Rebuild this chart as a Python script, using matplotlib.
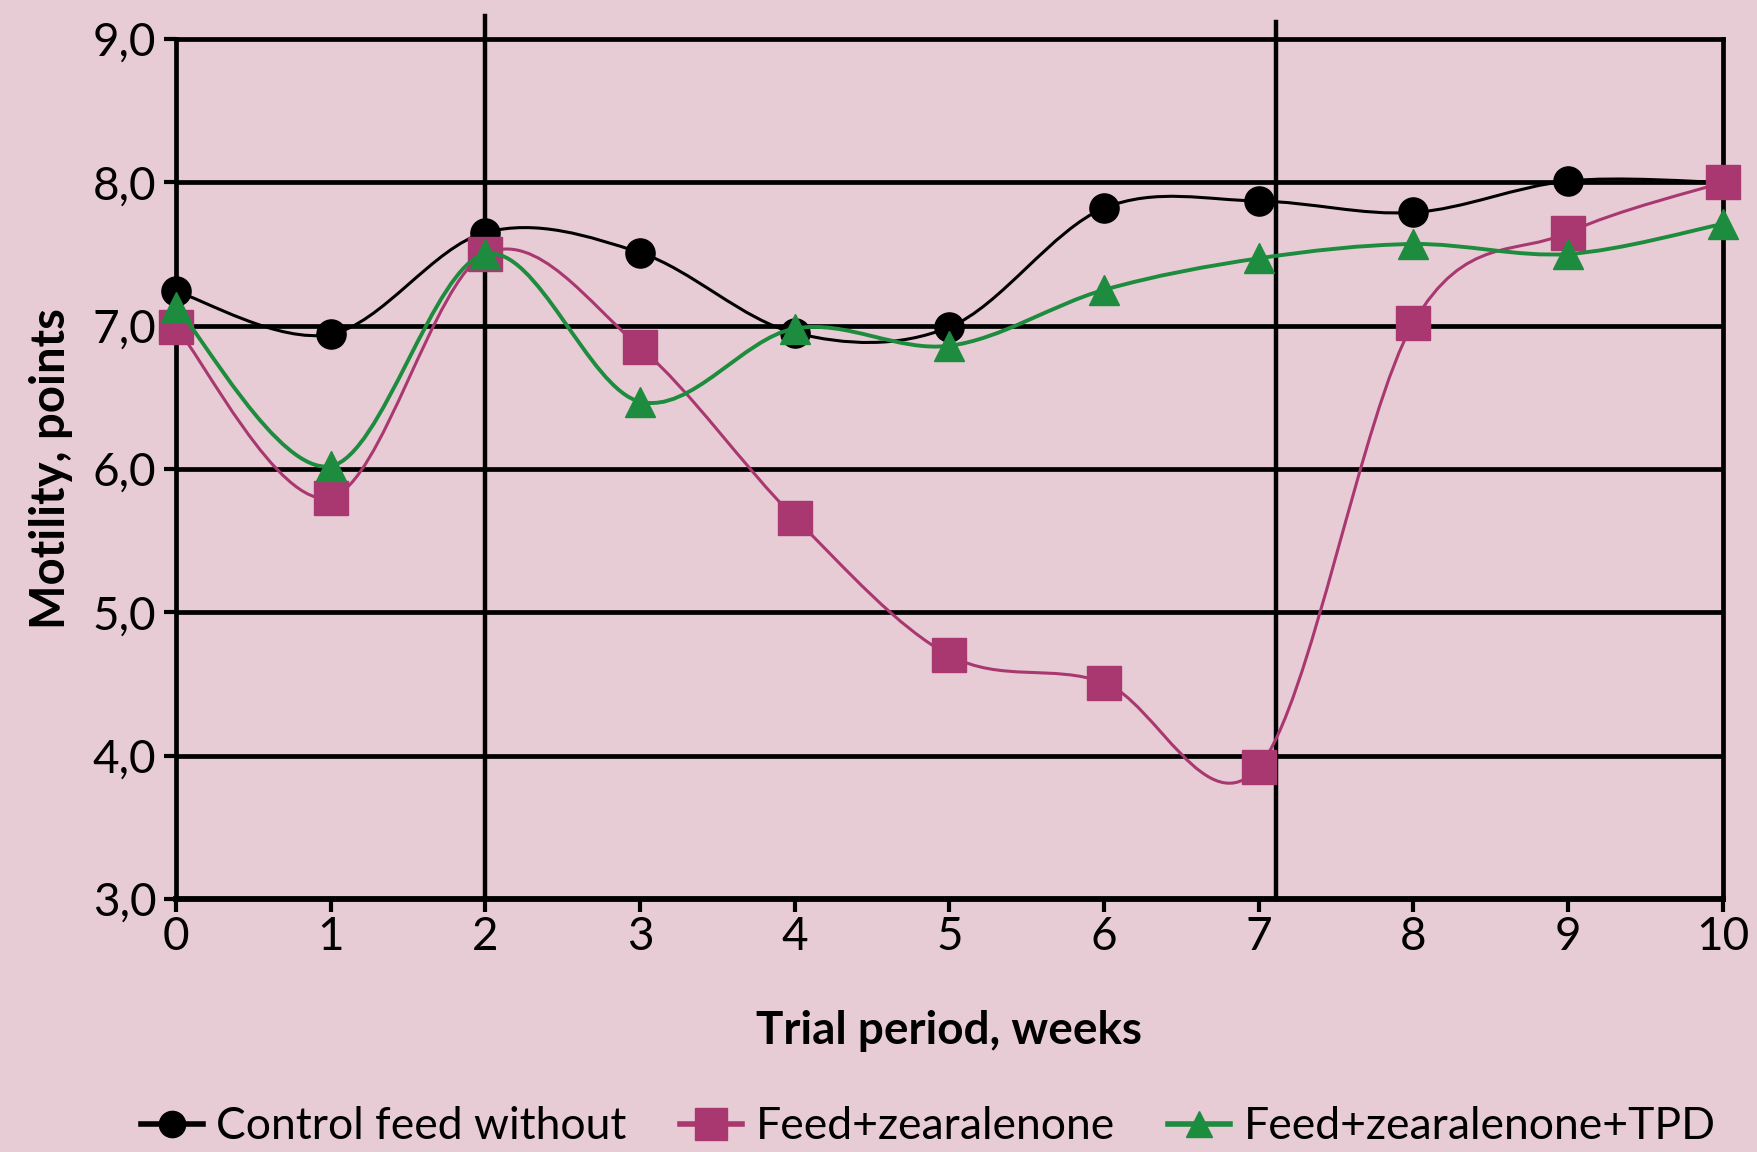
import numpy as np
import matplotlib
matplotlib.use("Agg")
import matplotlib.pyplot as plt
from matplotlib.path import Path
from matplotlib.patches import PathPatch
from matplotlib.lines import Line2D
from matplotlib import font_manager

# data
weeks = [0, 1, 2, 3, 4, 5, 6, 7, 8, 9, 10]
control = [7.24, 6.94, 7.65, 7.51, 6.95, 6.99, 7.82, 7.87, 7.79, 8.01, 8.0]
zearalenone = [6.99, 5.80, 7.50, 6.85, 5.66, 4.70, 4.51, 3.92, 7.02, 7.65, 8.0]
zea_tpd = [7.13, 6.02, 7.50, 6.47, 6.98, 6.86, 7.25, 7.47, 7.57, 7.50, 7.71]
labels = ["Control feed without", "Feed+zearalenone", "Feed+zearalenone+TPD"]
yticks = [3, 4, 5, 6, 7, 8, 9]
ytick_labels = ["3,0", "4,0", "5,0", "6,0", "7,0", "8,0", "9,0"]
vlines_x = [2, 7.11]
vlines_top = [9.16, 9.12]

bg = "#e8ccd5"
purple = "#a8386f"
green = "#1d8c3e"

available = {f.name for f in font_manager.fontManager.ttflist}
family = "DejaVu Sans"
for cand in ["Lato", "Open Sans", "Roboto Condensed"]:
    if cand in available:
        family = cand
        break
plt.rcParams['font.family'] = [family, 'DejaVu Sans']


def smooth_path(x, y, t=1.0 / 6):
    """Excel-like smoothed line as cubic bezier"""
    pts = np.column_stack([x, y]).astype(float)
    n = len(pts)
    verts = [pts[0]]
    codes = [Path.MOVETO]
    for i in range(n - 1):
        p0 = pts[i - 1] if i > 0 else pts[i]
        p1 = pts[i]
        p2 = pts[i + 1]
        p3 = pts[i + 2] if i + 2 < n else pts[i + 1]
        c1 = p1 + (p2 - p0) * t
        c2 = p2 - (p3 - p1) * t
        verts += [c1, c2, p2]
        codes += [Path.CURVE4] * 3
    return Path(verts, codes)


fig = plt.figure(figsize=(17.58, 11.52), dpi=100, facecolor=bg)
ax = fig.add_axes([0.100, 0.2196, 0.880, 0.7465])
ax.set_facecolor(bg)
ax.set_xlim(0, 10)
ax.set_ylim(3, 9)

# grid
for yv in yticks[1:-1]:
    ax.axhline(yv, color="black", lw=3.4, zorder=1)
for xv, top in zip(vlines_x, vlines_top):
    ax.plot([xv, xv], [3, top], color="black", lw=3.2, clip_on=False, zorder=1)

for sp in ax.spines.values():
    sp.set_linewidth(3.4)
    sp.set_color("black")
ax.spines['bottom'].set_linewidth(4.2)

series = [
    (control, "black", "o", 21, 2.2),
    (zearalenone, purple, "s", 25, 2.2),
    (zea_tpd, green, "^", 21, 2.8),
]
handles = []
for i, (vals, col, mk, ms, lw) in enumerate(series):
    patch = PathPatch(smooth_path(weeks, vals), facecolor="none", edgecolor=col,
                      lw=lw, zorder=3 + i, clip_on=False)
    ax.add_patch(patch)
    ax.plot(weeks, vals, linestyle="none", marker=mk, ms=ms, color=col,
            mec=col, zorder=3 + i, clip_on=False)
    handles.append(Line2D([0], [0], color=col, lw=4, marker=mk, ms=ms * 0.9, label=labels[i]))

ax.set_xticks(weeks)
ax.set_xticklabels([str(w) for w in weeks])
ax.set_yticks(yticks)
ax.set_yticklabels(ytick_labels)
ax.tick_params(axis="both", direction="out", length=9, width=3, colors="black",
               labelsize=33, pad=3)
ax.tick_params(axis="y", pad=5)

ax.set_xlabel("Trial period, weeks", fontsize=33, fontweight="bold", labelpad=38)
ax.set_ylabel("Motility, points", fontsize=34, fontweight="bold", labelpad=14)

fig.legend(handles=handles, loc="center", bbox_to_anchor=(0.528, 0.022), ncol=3,
           frameon=False, fontsize=32, handlelength=1.4, handletextpad=0.3,
           columnspacing=1.2)

fig.savefig("out.png", dpi=100, facecolor=bg)
